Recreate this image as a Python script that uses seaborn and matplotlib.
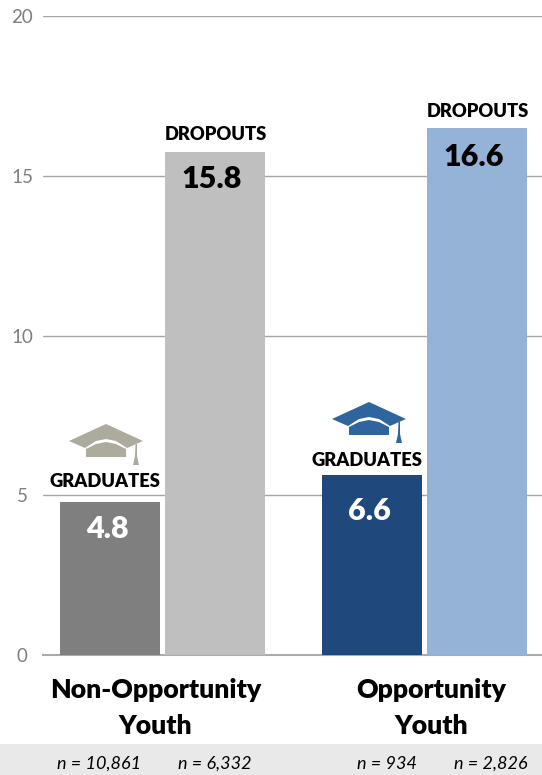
import matplotlib
matplotlib.use("Agg")
import matplotlib.pyplot as plt
import pandas as pd
import seaborn as sns
from matplotlib.patches import Polygon, Rectangle
from matplotlib.transforms import Affine2D, ScaledTranslation

categories = ["Non-Opportunity\nYouth", "Opportunity\nYouth"]
groups = ["GRADUATES", "DROPOUTS"]
# bar heights as drawn in the picture; the printed labels are kept apart
# because the second graduates bar is drawn lower than its label says
graduates = [4.79, 5.63]
dropouts = [15.75, 16.5]
graduate_labels = ["4.8", "6.6"]
dropout_labels = ["15.8", "16.6"]
n_graduates = ["n = 10,861", "n = 934"]
n_dropouts = ["n = 6,332", "n = 2,826"]
bar_colors = [["#7F7F7F", "#BFBFBF"], ["#1F497D", "#95B3D7"]]
value_colors = [["white", "black"], ["white", "black"]]
hat_colors = ["#ADAA9E", "#2F659F"]
yticks = [0, 5, 10, 15, 20]

sns.set_theme(style="white")
plt.rcParams["font.family"] = ["Lato", "DejaVu Sans"]
BOLD = "heavy"

W, H = 542, 775
fig = plt.figure(figsize=(W / 100, H / 100), dpi=100)
ax = fig.add_axes([43 / W, 1 - 655 / H, 1 - 43 / W, (655 - 16) / H])

df = pd.DataFrame({
    "category": categories * 2,
    "group": [groups[0]] * 2 + [groups[1]] * 2,
    "value": graduates + dropouts,
})
sns.barplot(data=df, x="category", y="value", hue="group", order=categories,
            hue_order=groups, width=0.8015, gap=0.0476, legend=False, ax=ax, zorder=3)

ax.set_xlim(-0.456, 1.448)
ax.set_ylim(0, 20)
ax.set_xlabel("")
ax.set_ylabel("")
ax.set_yticks(yticks)
ax.tick_params(axis="y", length=0, pad=15, labelsize=13.5, labelcolor="#7F7F7F")
for t in ax.get_yticklabels():
    t.set_ha("center")
ax.grid(axis="y", color="#A6A6A6", lw=1)
ax.set_axisbelow(True)
for side in ["top", "right", "left"]:
    ax.spines[side].set_visible(False)
ax.spines["bottom"].set_color("#ABABAB")
ax.spines["bottom"].set_linewidth(1.5)
ax.tick_params(axis="x", length=0, pad=16.5, labelsize=19.2)
for t, dx in zip(ax.get_xticklabels(), [-7, 7]):
    t.set_fontweight(BOLD)
    t.set_color("black")
    t.set_linespacing(1.6)
    t.set_transform(t.get_transform() + ScaledTranslation(dx / 100, 0, fig.dpi_scale_trans))

# (category, group) -> pixels: group label centre above bar top, value centre below it
label_gap = [[20, 17], [15, 16]]
label_dx = [[-5, 1], [-5, 1]]
value_gap = [[27, 27], [36, 29]]
value_dx = -3
value_labels = [graduate_labels, dropout_labels]

for g, container in enumerate(ax.containers):
    for c, bar in enumerate(container):
        bar.set_facecolor(bar_colors[c][g])
        bar.set_edgecolor("none")
        xc = bar.get_x() + bar.get_width() / 2
        top = bar.get_height()
        ax.annotate(groups[g], (xc, top), xytext=(label_dx[c][g], label_gap[c][g]),
                    textcoords="offset pixels", ha="center", va="center",
                    fontsize=13.2, fontweight=BOLD, color="black", zorder=5)
        ax.annotate(value_labels[g][c], (xc, top), xytext=(value_dx, -value_gap[c][g]),
                    textcoords="offset pixels", ha="center", va="center", fontsize=22,
                    fontweight=BOLD, color=value_colors[c][g], zorder=5)

# footer band and sample sizes (pixel positions on the figure)
px = Affine2D().scale(1 / W, -1 / H).translate(0, 1) + fig.transFigure
fig.add_artist(Rectangle((0, 744), W, 31, transform=px, color="#E9E9E9", lw=0, zorder=0))
n_x = [[99.5, 387], [215, 491]]
for g, labels in enumerate([n_graduates, n_dropouts]):
    for c in range(2):
        fig.text(n_x[g][c] / W, 1 - 764 / H, labels[c], ha="center", va="center",
                 fontsize=13, style="italic", color="black")


def hat(cx, top, color):
    t = lambda pts: [(cx + x, top + y) for x, y in pts]
    board = t([(-37, 17), (0, 0), (37, 17), (21, 24), (10, 17), (0, 15), (-10, 17), (-21, 24)])
    base = t([(-20, 25), (-10, 20), (0, 18), (10, 20), (20, 25), (20, 33), (-20, 33)])
    tassel = t([(29.5, 20), (31, 20), (31, 32), (33, 41), (27, 41), (29, 32)])
    for pts in (board, base, tassel):
        fig.add_artist(Polygon(pts, closed=True, transform=px, fc=color, ec="none", zorder=6))


hat(106, 424, hat_colors[0])
hat(369, 402, hat_colors[1])

fig.savefig("out.png", dpi=100)
